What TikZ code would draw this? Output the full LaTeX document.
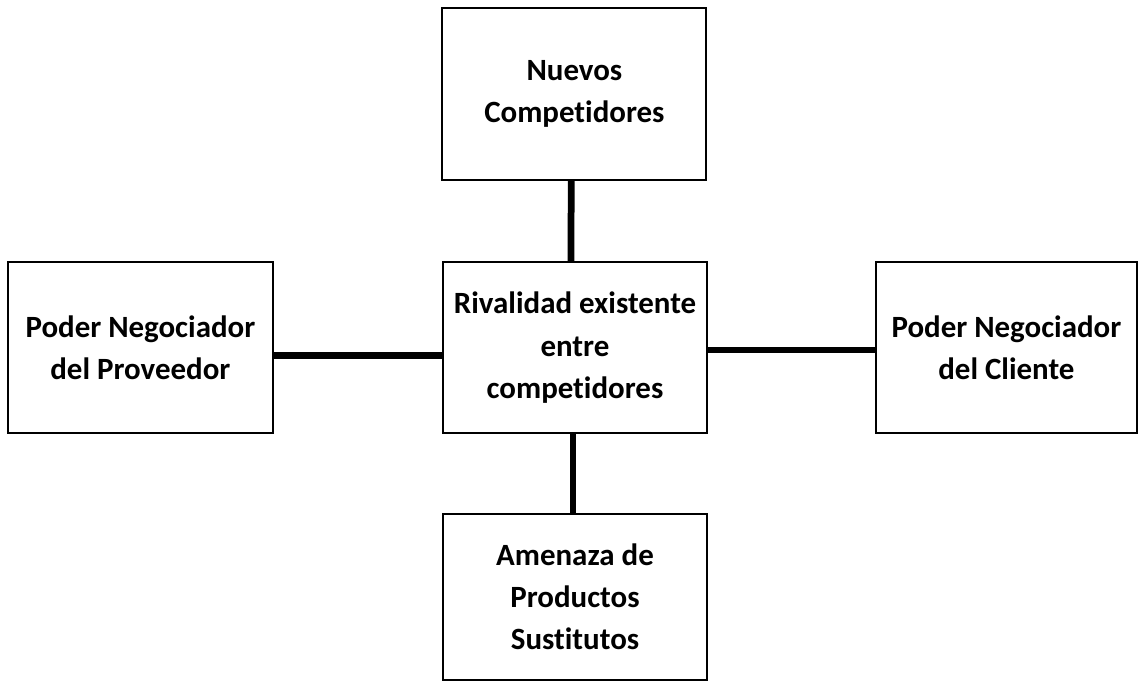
\documentclass[tikz,border=0pt]{standalone}
\usepackage{fontspec}
\setmainfont{Carlito}[Ligatures=NoCommon]
\usepackage{tikz}
\tikzset{
    every node/.style = {font = \bfseries\fontsize{22}{30}\selectfont}
}
\tikzstyle{force}=[
    draw,
    rectangle,
    line width = 1.5pt,
    align = center,
    inner sep = 0cm
]
\tikzstyle{link}=[
    line width = 4.8pt
]

\begin{document}
\begin{tikzpicture}
    \useasboundingbox (0, 0) rectangle (28.45, 17.05);

    \draw node [force, minimum width = 6.6cm, minimum height = 4.3cm] (nuevos) at (14.36, 14.7) {Nuevos\\Competidores};
    \draw node [force, minimum width = 6.6cm, minimum height = 4.28cm] (rival) at (14.375, 8.36) {Rivalidad existente\\entre\\competidores};
    \draw node [force, minimum width = 6.62cm, minimum height = 4.28cm] (proveedor) at (3.51, 8.36) {Poder Negociador\\del Proveedor};
    \draw node [force, minimum width = 6.52cm, minimum height = 4.28cm] (cliente) at (25.16, 8.36) {Poder Negociador\\del Cliente};
    \draw node [force, minimum width = 6.6cm, minimum height = 4.15cm] (sustitutos) at (14.375, 2.125) {Amenaza de\\Productos\\Sustitutos};

    \draw [link] ([xshift=-0.08cm]nuevos.south) -- ([xshift=-0.1cm]rival.north);
    \draw [link] ([yshift=-0.19cm]proveedor.east) -- ([yshift=-0.19cm]rival.west);
    \draw [link] ([yshift=-0.06cm]rival.east) -- ([yshift=-0.06cm]cliente.west);
    \draw [link] ([xshift=-0.05cm]rival.south) -- ([xshift=-0.05cm]sustitutos.north);
\end{tikzpicture}
\end{document}
